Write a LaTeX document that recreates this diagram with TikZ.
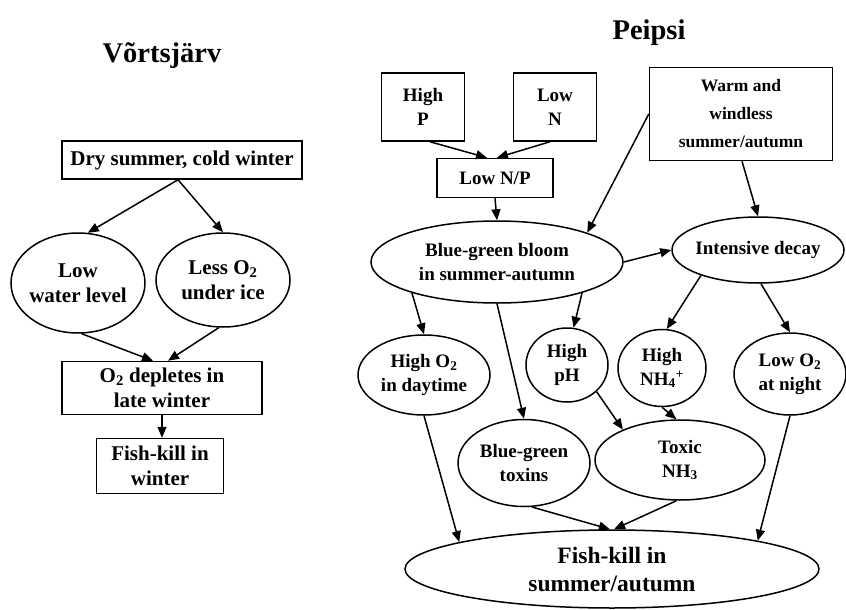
\documentclass[tikz,border=0pt]{standalone}
\usepackage{fontspec}
\setmainfont{Liberation Serif}
\usetikzlibrary{shapes.geometric,arrows.meta}
\begin{document}
\begin{tikzpicture}[x=1pt,y=-1pt,
  box/.style={draw, line width=1.5pt, rectangle, align=center, inner sep=0pt},
  ell/.style={draw, line width=1.5pt, ellipse, align=center, inner xsep=-20pt, inner ysep=-12pt},
  arr/.style={line width=1.5pt, -{Triangle[length=11pt,width=9pt]}},
  fleft/.style={font=\fontsize{21}{25}\selectfont\bfseries},
  fright/.style={font=\fontsize{19}{24}\selectfont\bfseries},
  fwarm/.style={font=\fontsize{17.5}{28}\selectfont\bfseries},
  fbig/.style={font=\fontsize{23.5}{28}\selectfont\bfseries},
  ftitle/.style={font=\fontsize{28.5}{32}\selectfont\bfseries, inner sep=0pt, anchor=base},
]
\useasboundingbox (0,0) rectangle (846,610);

% titles
\node[ftitle] (t1) at (162,63) {Võrtsjärv};
\node[ftitle] (t2) at (649,40) {Peipsi};

% left diagram
\node[box, fleft, minimum width=240pt, minimum height=38pt] (dry) at (182,160) {Dry summer, cold winter};
\node[ell, fleft, minimum width=134pt, minimum height=100pt] (low) at (78,283) {Low\\water level};
\node[ell, fleft, minimum width=134pt, minimum height=94pt] (less) at (223,280) {Less O\textsubscript{2}\\under ice};
\node[box, fleft, minimum width=200pt, minimum height=53pt] (dep) at (162,388) {O\textsubscript{2} depletes in\\late winter};
\node[box, fleft, minimum width=127pt, minimum height=55pt] (fkw) at (160,466) {Fish-kill in\\winter};

\draw[arr] ([xshift=-4pt]dry.south) -- (low.79);
\draw[arr] ([xshift=-4pt]dry.south) -- (less.north);
\draw[arr] (low.-86) -- ([xshift=-9pt]dep.north);
\draw[arr] (less.-95) -- ([xshift=6pt]dep.north);
\draw[arr] (dep.south) -- (dep.south |- fkw.north);

% right diagram
\node[box, fright, minimum width=83pt, minimum height=68pt] (hp) at (423,107) {High\\P};
\node[box, fright, minimum width=83pt, minimum height=68pt] (ln) at (555,107) {Low\\N};
\node[box, fright, minimum width=116pt, minimum height=39pt] (lnp) at (495,178) {Low N/P};
\node[box, fwarm, minimum width=183pt, minimum height=93pt] (warm) at (741,114) {Warm and\\windless\\summer/autumn};
\node[ell, fright, minimum width=252pt, minimum height=82pt] (bloom) at (497,262) {Blue-green bloom\\in summer-autumn};
\node[ell, fright, minimum width=172pt, minimum height=66pt] (decay) at (758,250) {Intensive decay};
\node[ell, fright, minimum width=132pt, minimum height=80pt] (ho2) at (424,375) {High O\textsubscript{2}\\in daytime};
\node[ell, fright, minimum width=82pt, minimum height=74pt] (hph) at (567,365) {High\\pH};
\node[ell, fright, minimum width=88pt, minimum height=77pt] (hnh) at (662,368) {High\\NH\textsubscript{4}\textsuperscript{+}};
\node[ell, fright, minimum width=112pt, minimum height=82pt] (lo2) at (790,374) {Low O\textsubscript{2}\\at night};
\node[ell, fright, minimum width=132pt, minimum height=87pt] (bgt) at (524,463) {Blue-green\\toxins};
\node[ell, fright, minimum width=170pt, minimum height=80pt] (tox) at (680,460) {Toxic\\NH\textsubscript{3}};
\node[ell, fbig, minimum width=414pt, minimum height=78pt] (fks) at (612,569) {Fish-kill in\\summer/autumn};

\draw[arr] ([xshift=7pt]hp.south) -- ([xshift=-8pt]lnp.north);
\draw[arr] ([xshift=-5pt]ln.south) -- ([xshift=2pt]lnp.north);
\draw[arr] (lnp.south) -- (bloom.north);
\draw[arr] (warm.west) -- (bloom.18);
\draw[arr] ([xshift=1pt]warm.south) -- (decay.north);
\draw[arr] (bloom.east) -- (decay.west);
\draw[arr] (bloom.200) -- (ho2.north);
\draw[arr] (bloom.-20) -- (hph.80);
\draw[arr] (bloom.south) -- (bgt.north);
\draw[arr] (decay.204) -- (hnh.83);
\draw[arr] (decay.-85) -- (lo2.north);
\draw[arr] (hph.-42) -- (tox.152);
\draw[arr] (hnh.south) -- (tox.95);
\draw[arr] (ho2.south) -- (fks.170);
\draw[arr] (bgt.-80) -- (fks.93);
\draw[arr] (tox.-95) -- (fks.87);
\draw[arr] (lo2.south) -- (fks.11);
\end{tikzpicture}
\end{document}
